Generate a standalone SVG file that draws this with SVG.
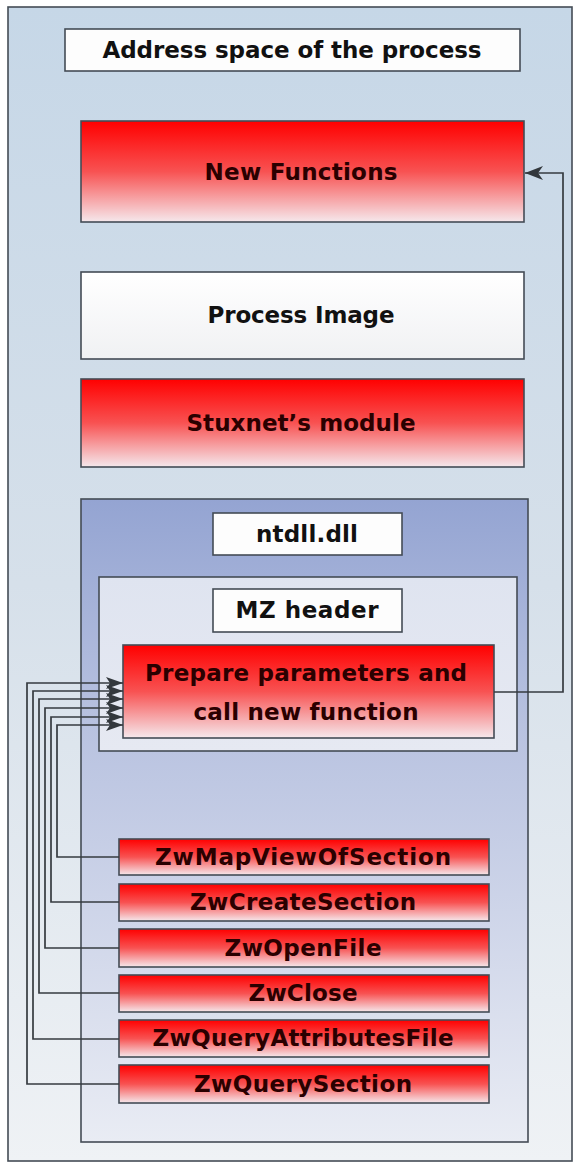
<svg xmlns="http://www.w3.org/2000/svg" width="578" height="1165" viewBox="0 0 578 1165">
<defs>
<linearGradient id="gOuter" x1="0" y1="0" x2="0" y2="1">
<stop offset="0" stop-color="#c6d7e7"/>
<stop offset="0.5" stop-color="#d6e0ea"/>
<stop offset="1" stop-color="#eff2f5"/>
</linearGradient>
<linearGradient id="gRed" x1="0" y1="0" x2="0" y2="1">
<stop offset="0" stop-color="#ff0000"/>
<stop offset="0.5" stop-color="#f85252"/>
<stop offset="1" stop-color="#f5e8ec"/>
</linearGradient>
<linearGradient id="gWhite" x1="0" y1="0" x2="0" y2="1">
<stop offset="0" stop-color="#ffffff"/>
<stop offset="1" stop-color="#f0f1f3"/>
</linearGradient>
<linearGradient id="gNtdll" x1="0" y1="0" x2="0" y2="1">
<stop offset="0" stop-color="#94a4d2"/>
<stop offset="0.35" stop-color="#b8c2e0"/>
<stop offset="1" stop-color="#e9ecf4"/>
</linearGradient>
<linearGradient id="gMz" x1="0" y1="0" x2="0" y2="1">
<stop offset="0" stop-color="#dfe4f0"/>
<stop offset="1" stop-color="#e6e9f2"/>
</linearGradient>
<marker id="arrL" markerUnits="userSpaceOnUse" markerWidth="20" markerHeight="14" refX="17" refY="6" orient="auto">
<path d="M0,0 L17,6 L0,12 L4,6 Z" fill="#33383d"/>
</marker>
<marker id="arrR" markerUnits="userSpaceOnUse" markerWidth="20" markerHeight="16" refX="18" refY="7" orient="auto">
<path d="M0,0 L18,7 L0,14 L5,7 Z" fill="#33383d"/>
</marker>
</defs>
<style>
.box{stroke:#444c55;stroke-width:1.6}
.lbl{font-family:"DejaVu Sans","Liberation Sans",sans-serif;font-weight:bold;font-size:23px;fill:#111;text-anchor:middle}
.lblr{fill:#2a0000}
.con{fill:none;stroke:#363b40;stroke-width:1.7}
</style>

<g id="outer">
<rect class="box" x="8" y="7" width="564" height="1154" fill="url(#gOuter)"/>
</g>

<g id="title">
<rect class="box" x="65" y="29" width="455" height="42" fill="#fdfdfd"/>
<text class="lbl" x="292" y="58" textLength="379">Address space of the process</text>
</g>

<g id="new-functions">
<rect class="box" x="81" y="121" width="443" height="101" fill="url(#gRed)"/>
<text class="lbl lblr" x="301" y="180" textLength="193">New Functions</text>
</g>

<g id="process-image">
<rect class="box" x="81" y="272" width="443" height="87" fill="url(#gWhite)"/>
<text class="lbl" x="301" y="323" textLength="187">Process Image</text>
</g>

<g id="stuxnet-module">
<rect class="box" x="81" y="379" width="443" height="88" fill="url(#gRed)"/>
<text class="lbl lblr" x="301" y="431" textLength="229">Stuxnet’s module</text>
</g>

<g id="ntdll">
<rect class="box" x="81" y="499" width="447" height="643" fill="url(#gNtdll)"/>
<rect class="box" x="213" y="513" width="189" height="42" fill="#fdfdfd"/>
<text class="lbl" x="307" y="542" textLength="102">ntdll.dll</text>
</g>

<g id="mz-container">
<rect class="box" x="99" y="577" width="418" height="174" fill="url(#gMz)"/>
<rect class="box" x="213" y="589" width="189" height="43" fill="#fdfdfd"/>
<text class="lbl" x="307" y="618" textLength="143">MZ header</text>
</g>

<g id="prepare">
<rect class="box" x="123" y="645" width="371" height="93" fill="url(#gRed)"/>
<text class="lbl lblr" x="306" y="681" textLength="322">Prepare parameters and</text>
<text class="lbl lblr" x="306" y="720" textLength="225">call new function</text>
</g>

<g id="zw-mapviewofsection">
<rect class="box" x="119" y="839" width="370" height="36" fill="url(#gRed)"/>
<text class="lbl lblr" x="303" y="865" textLength="296">ZwMapViewOfSection</text>
</g>
<g id="zw-createsection">
<rect class="box" x="119" y="884" width="370" height="37" fill="url(#gRed)"/>
<text class="lbl lblr" x="303" y="910" textLength="226">ZwCreateSection</text>
</g>
<g id="zw-openfile">
<rect class="box" x="119" y="929" width="370" height="38" fill="url(#gRed)"/>
<text class="lbl lblr" x="303" y="956" textLength="157">ZwOpenFile</text>
</g>
<g id="zw-close">
<rect class="box" x="119" y="975" width="370" height="37" fill="url(#gRed)"/>
<text class="lbl lblr" x="303" y="1001" textLength="109">ZwClose</text>
</g>
<g id="zw-queryattributesfile">
<rect class="box" x="119" y="1020" width="370" height="37" fill="url(#gRed)"/>
<text class="lbl lblr" x="303" y="1046" textLength="301">ZwQueryAttributesFile</text>
</g>
<g id="zw-querysection">
<rect class="box" x="119" y="1065" width="370" height="38" fill="url(#gRed)"/>
<text class="lbl lblr" x="303" y="1092" textLength="218">ZwQuerySection</text>
</g>

<g id="connectors">
<path class="con" d="M494 692 H563 V173 H525" marker-end="url(#arrR)"/>
<path class="con" d="M119 1084 H27 V683 H123" marker-end="url(#arrL)"/>
<path class="con" d="M119 1039 H33 V691 H123" marker-end="url(#arrL)"/>
<path class="con" d="M119 993 H39 V699 H123" marker-end="url(#arrL)"/>
<path class="con" d="M119 948 H45 V708 H123" marker-end="url(#arrL)"/>
<path class="con" d="M119 902 H51 V717 H123" marker-end="url(#arrL)"/>
<path class="con" d="M119 857 H57 V725 H123" marker-end="url(#arrL)"/>
</g>
</svg>
